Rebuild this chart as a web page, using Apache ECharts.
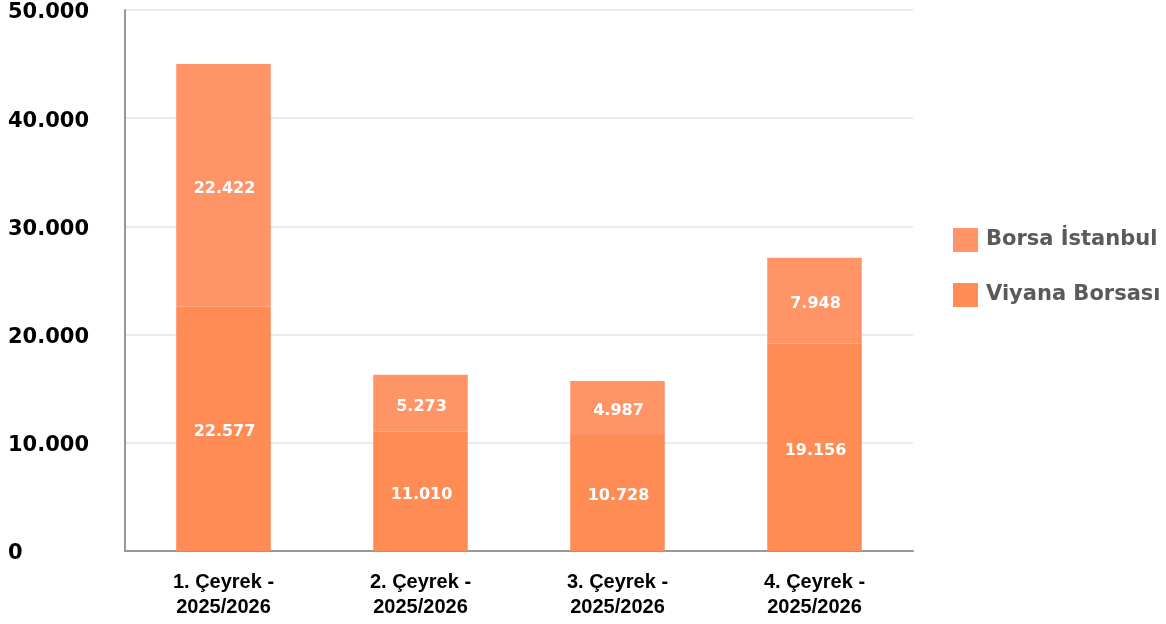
<!DOCTYPE html>
<html>
<head>
<meta charset="utf-8">
<script src="https://cdn.jsdelivr.net/npm/echarts@6/dist/echarts.min.js"></script>
<style>
  html, body { margin: 0; padding: 0; background: #fff; }
  #chart { width: 1166px; height: 624px; }
</style>
</head>
<body>
<div id="chart"></div>
<script>
// kategoriler (çeyrekler)
const categories = [
  '1. Çeyrek -\n2025/2026',
  '2. Çeyrek -\n2025/2026',
  '3. Çeyrek -\n2025/2026',
  '4. Çeyrek -\n2025/2026'
];

// seri değerleri
const viyanaBorsasi = [22577, 11010, 10728, 19156];
const borsaIstanbul = [22422, 5273, 4987, 7948];

// eksen ayarları
const yMin = 0;
const yMax = 50000;
const yStep = 10000;

// binlik ayırıcı nokta
function fmt(v) {
  return String(Math.round(v)).replace(/\B(?=(\d{3})+(?!\d))/g, '.');
}

const chart = echarts.init(document.getElementById('chart'), null, { renderer: 'canvas' });

const valueLabel = {
  show: true,
  position: 'inside',
  color: '#fff',
  fontFamily: 'DejaVu Sans',
  fontWeight: 'bold',
  fontSize: 16,
  offset: [1, 3],
  formatter: p => fmt(p.value)
};

chart.setOption({
  animation: false,
  grid: { left: 125, right: 253, top: 10, bottom: 73 },
  legend: {
    orient: 'vertical',
    left: 948,
    top: 223,
    itemWidth: 25,
    itemHeight: 24,
    itemGap: 31,
    icon: 'rect',
    data: ['Borsa İstanbul', 'Viyana Borsası'],
    textStyle: {
      color: '#5a5a5a',
      fontFamily: 'DejaVu Sans',
      fontWeight: 'bold',
      fontSize: 21,
      padding: [0, 0, 0, 3]
    }
  },
  xAxis: {
    type: 'category',
    data: categories,
    axisLine: { show: true, lineStyle: { color: '#999', width: 2 } },
    axisTick: { show: false },
    axisLabel: {
      color: '#000',
      fontFamily: 'Liberation Sans',
      fontWeight: 'bold',
      fontSize: 20,
      lineHeight: 25,
      margin: 19
    }
  },
  yAxis: {
    type: 'value',
    min: yMin,
    max: yMax,
    interval: yStep,
    axisLine: { show: true, lineStyle: { color: '#999', width: 2 } },
    axisTick: { show: false },
    splitLine: { lineStyle: { color: '#e3e3e3', width: 1.5 } },
    axisLabel: {
      align: 'left',
      margin: 117,
      formatter: v => '{t|' + fmt(v) + '}',
      rich: {
        t: {
          color: '#000',
          fontFamily: 'DejaVu Sans',
          fontWeight: 'bold',
          fontSize: 21,
          padding: [6, 0, 0, 0]
        }
      }
    }
  },
  series: [
    {
      name: 'Viyana Borsası',
      type: 'bar',
      stack: 'toplam',
      barWidth: '48%',
      data: viyanaBorsasi,
      itemStyle: { color: '#ff8c55' },
      label: valueLabel
    },
    {
      name: 'Borsa İstanbul',
      type: 'bar',
      stack: 'toplam',
      barWidth: '48%',
      data: borsaIstanbul,
      itemStyle: { color: '#ff9566' },
      label: valueLabel
    }
  ]
});
</script>
</body>
</html>
